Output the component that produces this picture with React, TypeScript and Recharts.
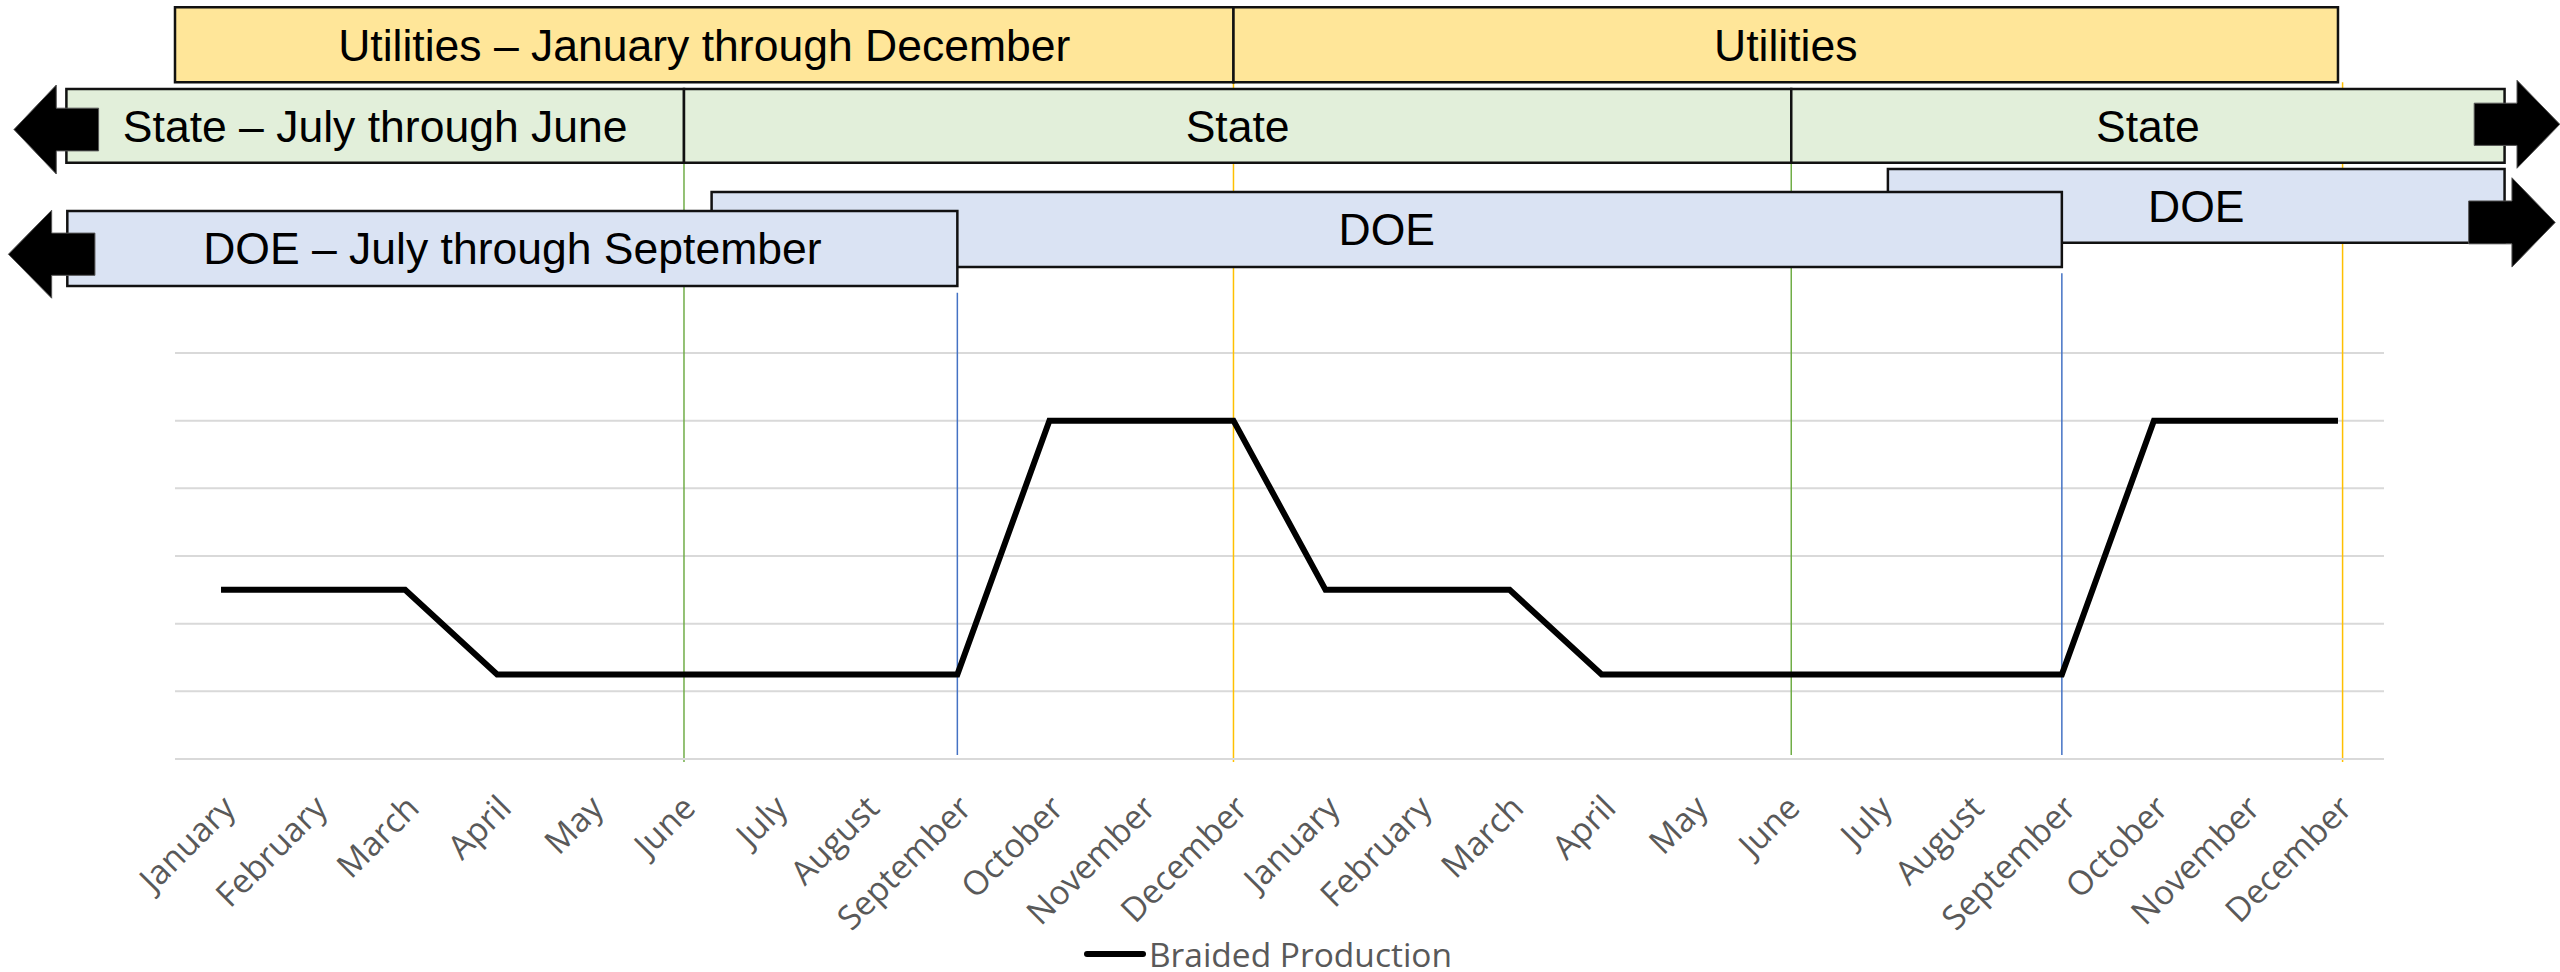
import React from 'react';
import {
  LineChart,
  Line,
  XAxis,
  YAxis,
  CartesianGrid,
  ReferenceArea,
  ReferenceLine,
  Legend,
} from 'recharts';

// ---------- data ----------
const months = [
  'January', 'February', 'March', 'April', 'May', 'June', 'July', 'August', 'September', 'October', 'November', 'December',
  'January', 'February', 'March', 'April', 'May', 'June', 'July', 'August', 'September', 'October', 'November', 'December',
];
const production = [
  2.5, 2.5, 2.5, 1.25, 1.25, 1.25, 1.25, 1.25, 1.25, 5, 5, 5,
  2.5, 2.5, 2.5, 1.25, 1.25, 1.25, 1.25, 1.25, 1.25, 5, 5, 5,
];
const seriesName = 'Braided Production';
const yTicks = [0, 1, 2, 3, 4, 5, 6];
const monthIdx = months.map((_, i) => i);

// funding periods, in month-index units
const utilitiesPeriods = [
  { label: 'Utilities – January through December', start: -0.5, end: 11 },
  { label: 'Utilities', start: 11, end: 23 },
];
const statePeriods = [
  { label: 'State – July through June', start: -1.68, end: 5.03 },
  { label: 'State', start: 5.03, end: 17.06 },
  { label: 'State', start: 17.06, end: 24.81 },
];
// back to front
const doePeriods = [
  { label: 'DOE', start: 18.11, end: 24.81, row: 'doe3' },
  { label: 'DOE', start: 5.33, end: 20, row: 'doe2' },
  { label: 'DOE – July through September', start: -1.67, end: 8, row: 'doe1' },
];
// month boundaries marked by thin vertical lines
const markers = [
  { x: 5.03, kind: 'state', end: 'long' },
  { x: 8, kind: 'doe1', end: 'short' },
  { x: 11, kind: 'util', end: 'long' },
  { x: 17.06, kind: 'state', end: 'short' },
  { x: 20, kind: 'doe2', end: 'short' },
  { x: 23.05, kind: 'util', end: 'long' },
];
// continuation arrows
const arrows = [
  { dir: 'left', x1: -2.25, x2: -1.33, row: 'stateArrowL' },
  { dir: 'left', x1: -2.31, x2: -1.37, row: 'doeArrowL' },
  { dir: 'right', x1: 24.48, x2: 25.41, row: 'stateArrowR' },
  { dir: 'right', x1: 24.42, x2: 25.36, row: 'doeArrowR' },
];

// ---------- layout (value units of the y scale) ----------
const ROW: Record<string, [number, number]> = {
  util: [10.0, 11.11],
  state: [8.81, 9.9],
  doe1: [6.99, 8.1],
  doe2: [7.27, 8.38],
  doe3: [7.63, 8.72],
  stateArrowL: [8.645, 9.96],
  doeArrowL: [6.81, 8.11],
  stateArrowR: [8.73, 10.03],
  doeArrowR: [7.27, 8.59],
};
const MARKER_TOP: Record<string, number> = { state: 8.81, doe1: 6.89, doe2: 7.18, util: 10.0 };
const MARKER_BOTTOM: Record<string, number> = { long: -0.045, short: 0.06 };
const MARKER_COLOR: Record<string, string> = { state: '#70AD47', doe1: '#4472C4', doe2: '#4472C4', util: '#FFC000' };

const BOX_FONT = "'Liberation Sans', Arial, sans-serif";
const AXIS_FONT = "'Open Sans', sans-serif";
const AXIS_SIZE = 33.5;

const data = months.map((m, i) => ({ idx: i, month: m, value: production[i] }));

const MonthTick = (props: any) => {
  const { x, y, payload } = props;
  const ax = x + 16;
  const ay = y + 51;
  return (
    <text
      x={ax}
      y={ay}
      transform={`rotate(-45 ${ax} ${ay})`}
      textAnchor="end"
      fontFamily={AXIS_FONT}
      fontSize={AXIS_SIZE}
      fill="#595959"
    >
      {months[payload.value]}
    </text>
  );
};

const makeArrow = (dir: string) => (props: any) => {
  const { x, y, width: w, height: h } = props;
  const head = w * 0.5;
  const sh = h * 0.48;
  const cy = y + h / 2;
  let pts: number[][];
  if (dir === 'left') {
    const bx = x + head;
    pts = [[x, cy], [bx, y], [bx, cy - sh / 2], [x + w, cy - sh / 2], [x + w, cy + sh / 2], [bx, cy + sh / 2], [bx, y + h]];
  } else {
    const bx = x + w - head;
    pts = [[x + w, cy], [bx, y + h], [bx, cy + sh / 2], [x, cy + sh / 2], [x, cy - sh / 2], [bx, cy - sh / 2], [bx, y]];
  }
  return <polygon points={pts.map((p) => p.join(',')).join(' ')} fill="#000" stroke="#555" strokeWidth={1} />;
};

const boxLabel = (value: string) => ({
  value,
  position: 'center' as const,
  fontSize: 44.5,
  fill: '#000',
  fontFamily: BOX_FONT,
});

const LegendContent = () => (
  <div style={{ display: 'flex', justifyContent: 'center', alignItems: 'center', height: 44 }}>
    <svg width={62} height={12} style={{ display: 'block' }}>
      <line x1={3} y1={6} x2={59} y2={6} stroke="#000" strokeWidth={6} strokeLinecap="round" />
    </svg>
    <span style={{ fontFamily: AXIS_FONT, fontSize: AXIS_SIZE, color: '#595959', marginLeft: 3, lineHeight: '44px' }}>
      {seriesName}
    </span>
  </div>
);

export default function App() {
  return (
    <div style={{ position: 'absolute', left: 0, top: 0, width: 2560, height: 972, background: '#fff' }}>
      <LineChart
        width={2560}
        height={972}
        data={data}
        margin={{ top: 353, right: 176, left: 175, bottom: 13 }}
      >
        <CartesianGrid vertical={false} stroke="#D9D9D9" strokeWidth={2} />
        <XAxis
          dataKey="idx"
          type="number"
          domain={[-0.5, 23.5]}
          ticks={monthIdx}
          interval={0}
          tickLine={false}
          tickSize={0}
          tickMargin={0}
          axisLine={{ stroke: '#D9D9D9', strokeWidth: 2 }}
          height={200}
          tick={<MonthTick />}
        />
        <YAxis type="number" domain={[0, 6]} ticks={yTicks} hide />

        {markers.map((m, i) => (
          <ReferenceLine
            key={'m' + i}
            segment={[
              { x: m.x, y: MARKER_TOP[m.kind] },
              { x: m.x, y: MARKER_BOTTOM[m.end] },
            ]}
            stroke={MARKER_COLOR[m.kind]}
            strokeWidth={1.5}
            ifOverflow="visible"
            zIndex={-50}
          />
        ))}

        {utilitiesPeriods.map((p, i) => (
          <ReferenceArea
            key={'u' + i}
            x1={p.start}
            x2={p.end}
            y1={ROW.util[0]}
            y2={ROW.util[1]}
            ifOverflow="visible"
            fill="#FFE699"
            fillOpacity={1}
            stroke="#111"
            strokeWidth={2.5}
            label={boxLabel(p.label)}
            zIndex={100}
          />
        ))}
        {statePeriods.map((p, i) => (
          <ReferenceArea
            key={'s' + i}
            x1={p.start}
            x2={p.end}
            y1={ROW.state[0]}
            y2={ROW.state[1]}
            ifOverflow="visible"
            fill="#E2EFDA"
            fillOpacity={1}
            stroke="#111"
            strokeWidth={2.5}
            label={boxLabel(p.label)}
            zIndex={100}
          />
        ))}
        {doePeriods.map((p, i) => (
          <ReferenceArea
            key={'d' + i}
            x1={p.start}
            x2={p.end}
            y1={ROW[p.row][0]}
            y2={ROW[p.row][1]}
            ifOverflow="visible"
            fill="#DAE3F3"
            fillOpacity={1}
            stroke="#111"
            strokeWidth={2.5}
            label={boxLabel(p.label)}
            zIndex={100}
          />
        ))}
        {arrows.map((a, i) => (
          <ReferenceArea
            key={'a' + i}
            x1={a.x1}
            x2={a.x2}
            y1={ROW[a.row][0]}
            y2={ROW[a.row][1]}
            ifOverflow="visible"
            shape={makeArrow(a.dir)}
            zIndex={110}
          />
        ))}

        <Line
          type="linear"
          dataKey="value"
          name={seriesName}
          stroke="#000"
          strokeWidth={6}
          dot={false}
          activeDot={false}
          isAnimationActive={false}
        />
        <Legend
          verticalAlign="middle"
          align="center"
          layout="horizontal"
          wrapperStyle={{ top: 932, left: 0, width: 2536, height: 44 }}
          content={<LegendContent />}
        />
      </LineChart>
    </div>
  );
}
